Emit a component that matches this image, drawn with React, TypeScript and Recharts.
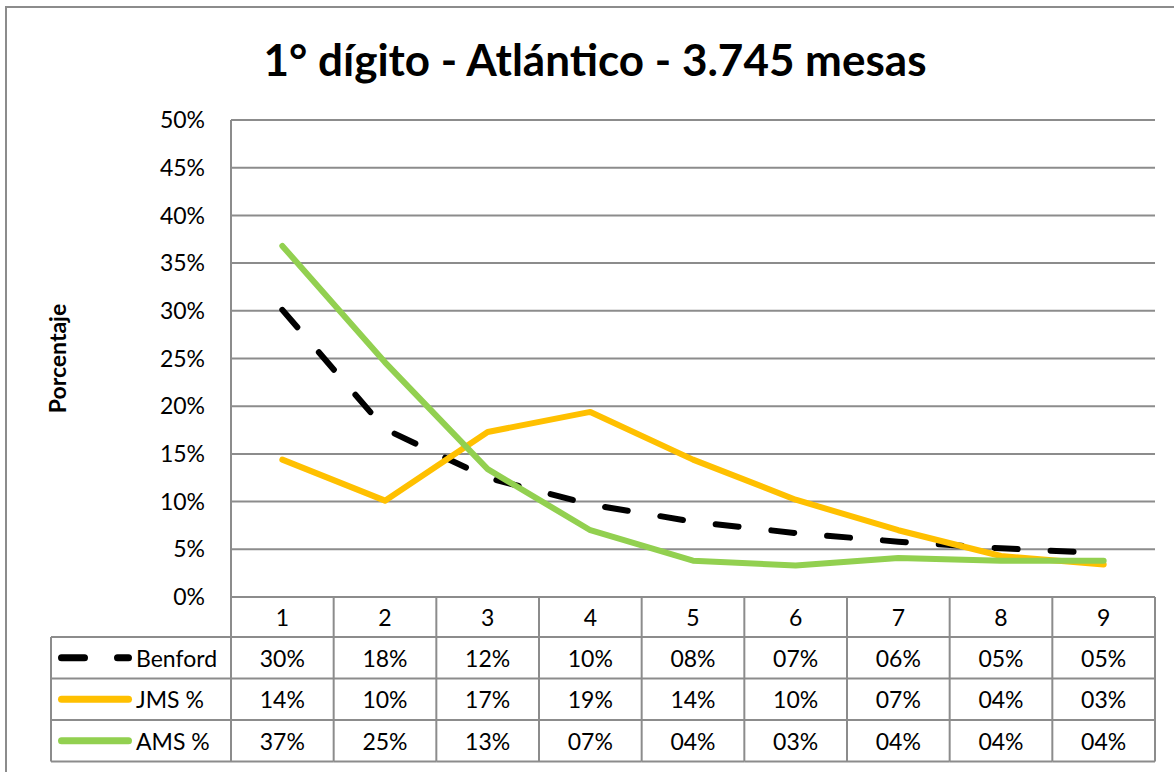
import React from 'react';
import { LineChart, Line, XAxis, YAxis, CartesianGrid } from 'recharts';

// datos (porcentajes)
const categories = ['1', '2', '3', '4', '5', '6', '7', '8', '9'];
const benford = [30.1, 17.6, 12.49, 9.7, 7.9, 6.7, 5.8, 5.1, 4.6];
const jms = [14.4, 10.1, 17.3, 19.4, 14.4, 10.2, 7.0, 4.3, 3.4];
const ams = [36.8, 24.6, 13.4, 7.0, 3.8, 3.3, 4.1, 3.8, 3.8];
const yTicks = [0, 5, 10, 15, 20, 25, 30, 35, 40, 45, 50];

const series = [
  { key: 'benford', name: 'Benford', values: benford, color: '#000000', dash: '23 33' },
  { key: 'jms', name: 'JMS %', values: jms, color: '#FFC000', dash: undefined },
  { key: 'ams', name: 'AMS %', values: ams, color: '#92D050', dash: undefined },
];

const data = categories.map((c, i) => ({
  name: c,
  benford: benford[i],
  jms: jms[i],
  ams: ams[i],
}));

const FONT = 'Lato, "Open Sans", sans-serif';
const GRID = '#8c8c8c';
const COL_W = (1155 - 231) / 9;
const ROW_H = 41.5;
const HEAD_H = 40;
const LEG_LEFT = 51;
const FS = 23;

const fmt = (v: number) => String(Math.round(v)).padStart(2, '0') + '%';

// columna de la tabla de datos bajo cada categoría
const ColumnTick = (props: any) => {
  const { x, y, payload, index } = props;
  const half = COL_W / 2;
  const bottom = y + HEAD_H + ROW_H * 3;
  return (
    <g>
      <text x={x} y={y + HEAD_H / 2} textAnchor="middle" dominantBaseline="central" fontSize={FS} fontFamily={FONT} fill="#000">
        {payload.value}
      </text>
      {series.map((s, r) => (
        <g key={s.key}>
          <line x1={x - half} x2={x + half} y1={y + HEAD_H + ROW_H * r} y2={y + HEAD_H + ROW_H * r} stroke={GRID} strokeWidth={2} />
          <text x={x} y={y + HEAD_H + ROW_H * r + ROW_H / 2} textAnchor="middle" dominantBaseline="central" fontSize={FS} fontFamily={FONT} fill="#000">
            {fmt(s.values[index])}
          </text>
        </g>
      ))}
      <line x1={x - half} x2={x + half} y1={bottom} y2={bottom} stroke={GRID} strokeWidth={2} />
      <line x1={x + half} x2={x + half} y1={y} y2={bottom} stroke={GRID} strokeWidth={2} />
      {index === 0 && (
        <g>
          <line x1={x - half} x2={x - half} y1={y} y2={bottom} stroke={GRID} strokeWidth={2} />
          <line x1={LEG_LEFT} x2={LEG_LEFT} y1={y + HEAD_H} y2={bottom} stroke={GRID} strokeWidth={2} />
          {series.map((s, r) => {
            const ry = y + HEAD_H + ROW_H * r;
            return (
              <g key={s.key}>
                <line x1={LEG_LEFT} x2={x - half} y1={ry} y2={ry} stroke={GRID} strokeWidth={2} />
                <line
                  x1={61.5}
                  x2={128.5}
                  y1={ry + ROW_H / 2}
                  y2={ry + ROW_H / 2}
                  stroke={s.color}
                  strokeWidth={7}
                  strokeLinecap="round"
                  strokeDasharray={s.dash}
                />
                <text x={136} y={ry + ROW_H / 2} dominantBaseline="central" fontSize={FS} fontFamily={FONT} fill="#000">
                  {s.name}
                </text>
              </g>
            );
          })}
          <line x1={LEG_LEFT} x2={x - half} y1={bottom} y2={bottom} stroke={GRID} strokeWidth={2} />
        </g>
      )}
    </g>
  );
};

export default function App() {
  return (
    <div style={{ position: 'absolute', left: 0, top: 0, width: 1174, height: 772, overflow: 'hidden', background: '#fff' }}>
      <div
        style={{
          position: 'absolute',
          left: 5,
          top: 6,
          width: 1200,
          height: 800,
          border: `2px solid ${GRID}`,
          boxSizing: 'border-box',
        }}
      />
      <div
        style={{
          position: 'absolute',
          left: 0,
          top: 37,
          width: 1190,
          textAlign: 'center',
          fontFamily: FONT,
          fontWeight: 700,
          fontSize: 44,
          lineHeight: 1,
          color: '#000',
        }}
      >
        1° dígito - Atlántico - 3.745 mesas
      </div>
      <div style={{ position: 'absolute', left: 0, top: 0 }}>
        <LineChart width={1174} height={772} data={data} margin={{ top: 120, right: 19, left: 0, bottom: 0 }}>
          <CartesianGrid vertical={false} stroke={GRID} strokeWidth={2} />
          <XAxis
            dataKey="name"
            height={175}
            interval={0}
            tickSize={0}
            tickMargin={0}
            padding={{ left: COL_W / 2, right: COL_W / 2 }}
            axisLine={{ stroke: GRID, strokeWidth: 2 }}
            tick={(p: any) => <ColumnTick {...p} />}
          />
          <YAxis
            width={231}
            domain={[0, 50]}
            ticks={yTicks}
            tickSize={0}
            tickMargin={26}
            tickFormatter={(v: number) => `${v}%`}
            axisLine={{ stroke: GRID, strokeWidth: 2 }}
            tick={{ fill: '#000', fontSize: FS, fontFamily: FONT }}
            label={(lp: any) => {
              const vb = lp.viewBox || {};
              const cy = (vb.y ?? 120) + (vb.height ?? 477) / 2;
              return (
                <text x={57} y={cy} transform={`rotate(-90 57 ${cy})`} textAnchor="middle" dominantBaseline="central" fontSize={23} fontWeight={700} fontFamily={FONT} fill="#000">
                  Porcentaje
                </text>
              );
            }}
          />
          {series.map((s) => (
            <Line
              key={s.key}
              dataKey={s.key}
              name={s.name}
              stroke={s.color}
              strokeWidth={6}
              strokeDasharray={s.dash}
              strokeLinecap="round"
              strokeLinejoin="round"
              dot={false}
              activeDot={false}
              isAnimationActive={false}
            />
          ))}
        </LineChart>
      </div>
    </div>
  );
}
